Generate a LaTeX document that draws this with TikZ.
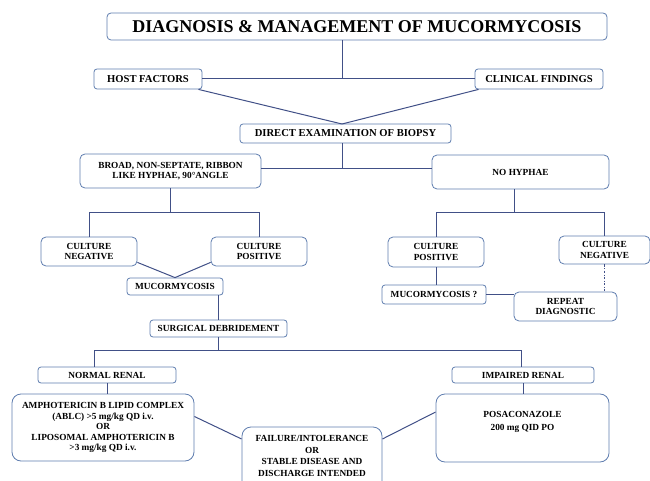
\documentclass[tikz,border=0pt]{standalone}
\usepackage{fontspec}
\setmainfont{Liberation Serif}
\definecolor{boxc}{RGB}{95,125,175}
\definecolor{linec}{RGB}{65,80,135}
\begin{document}
\begin{tikzpicture}[x=1pt,y=-1pt,
  box/.style={draw=boxc, line width=0.8pt, fill=white, rounded corners=3pt, inner sep=0pt, align=center, font=\bfseries\fontsize{9.3}{10.5}\selectfont},
  bigbox/.style={box, rounded corners=9pt},
  midbox/.style={box, rounded corners=5pt},
  hdr/.style={font=\bfseries\fontsize{10.6}{12}\selectfont},
  conn/.style={draw=linec, line width=1pt},
  dashconn/.style={draw=linec, line width=0.8pt, dash pattern=on 2.5pt off 1.5pt on 0.6pt off 1.5pt},
]
\useasboundingbox (0,0) rectangle (650,481);
\clip (0,0) rectangle (650,481);

\node[box, rounded corners=4pt, minimum width=500pt, minimum height=27pt, font=\bfseries\fontsize{18}{20}\selectfont] (title) at (357,26.5) {DIAGNOSIS \& MANAGEMENT OF MUCORMYCOSIS};
\node[box, hdr, minimum width=108pt, minimum height=20pt] (host) at (148,79) {HOST FACTORS};
\node[box, hdr, minimum width=128pt, minimum height=20pt] (clin) at (539,79) {CLINICAL FINDINGS};
\node[box, hdr, minimum width=211pt, minimum height=19pt] (dexam) at (345.5,133.5) {DIRECT EXAMINATION OF BIOPSY};
\node[midbox, minimum width=181pt, minimum height=34pt] (broad) at (170.5,171) {BROAD, NON-SEPTATE, RIBBON\\LIKE HYPHAE, 90°ANGLE};
\node[midbox, minimum width=177pt, minimum height=34pt] (nohyph) at (520.5,172) {NO HYPHAE};
\node[midbox, minimum width=96pt, minimum height=29pt] (cneg1) at (89,251.5) {CULTURE\\NEGATIVE};
\node[midbox, minimum width=96pt, minimum height=29pt] (cpos1) at (259,251.5) {CULTURE\\POSITIVE};
\node[box, minimum width=96pt, minimum height=17pt] (muc1) at (175,286.5) {MUCORMYCOSIS};
\node[box, minimum width=137pt, minimum height=17pt] (surg) at (218.5,328.5) {SURGICAL DEBRIDEMENT};
\node[midbox, minimum width=96pt, minimum height=30pt] (cpos2) at (436,252) {CULTURE\\POSITIVE};
\node[midbox, minimum width=91pt, minimum height=28pt] (cneg2) at (604.5,250) {CULTURE\\NEGATIVE};
\node[box, minimum width=104pt, minimum height=19pt] (muc2) at (434,294.5) {MUCORMYCOSIS ?};
\node[midbox, minimum width=103pt, minimum height=29pt] (repeat) at (565.5,306.5) {REPEAT\\DIAGNOSTIC};
\node[box, minimum width=138pt, minimum height=16pt] (normal) at (107,375) {NORMAL RENAL};
\node[box, minimum width=142pt, minimum height=16pt] (impaired) at (523,375) {IMPAIRED RENAL};
\node[bigbox, minimum width=182pt, minimum height=67pt] (ampho) at (103,427.5) {AMPHOTERICIN B LIPID COMPLEX\\(ABLC) >5 mg/kg QD i.v.\\OR\\LIPOSOMAL AMPHOTERICIN B\\>3 mg/kg QD i.v.};
\node[bigbox, minimum width=173pt, minimum height=68pt, font=\bfseries\fontsize{9.3}{13}\selectfont] (posa) at (522.5,428) {POSACONAZOLE\\200 mg QID PO\\[2pt]};
\node[bigbox, minimum width=140pt, minimum height=66pt, font=\bfseries\fontsize{9.3}{11.5}\selectfont] (fail) at (312,460) {FAILURE/INTOLERANCE\\OR\\STABLE DISEASE AND\\DISCHARGE INTENDED\\[-3pt]};

\coordinate (hub) at (342,79);
\draw[conn] (title.south -| hub) -- (hub);
\draw[conn] (host.east) -- (clin.west);
\coordinate (meet) at (342,124);
\draw[conn] ([xshift=-4pt]host.south east) -- (meet);
\draw[conn] ([xshift=4pt]clin.south west) -- (meet);
\coordinate (split1) at (342,169);
\draw[conn] (dexam.south -| meet) -- (split1);
\draw[conn] (broad.east |- split1) -- (nohyph.west |- split1);

\coordinate (s2) at (170.5,212);
\draw[conn] (broad.south) -- (s2);
\draw[conn] (cneg1.north) -- (cneg1.north |- s2) -- (cpos1.north |- s2) -- (cpos1.north);
\draw[conn] ([yshift=4pt]cneg1.south east) -- (muc1.north);
\draw[conn] ([yshift=4pt]cpos1.south west) -- (muc1.north);
\draw[conn] (muc1.south -| surg.north) -- (surg.north);
\coordinate (s3) at (218.5,350);
\draw[conn] (surg.south) -- (s3);
\coordinate (nL) at (94,350);
\coordinate (nR) at (521,350);
\draw[conn] (nL |- normal.north) -- (nL) -- (nR) -- (nR |- impaired.north);
\draw[conn] (normal.south) -- (normal.south |- ampho.north);
\draw[conn] (impaired.south) -- (impaired.south |- posa.north);
\draw[conn] ([yshift=11pt]ampho.east) -- ([yshift=21pt]fail.west);
\draw[conn] ([yshift=16pt]posa.west) -- ([yshift=21pt]fail.east);

\coordinate (s4) at (514,212);
\draw[conn] (nohyph.south -| s4) -- (s4);
\draw[conn] (cpos2.north) -- (cpos2.north |- s4) -- (cneg2.north |- s4) -- (cneg2.north);
\draw[conn] (cpos2.south) -- (cpos2.south |- muc2.north);
\draw[conn] (muc2.east) -- (muc2.east -| repeat.west);
\draw[dashconn] (cneg2.south) -- (cneg2.south |- repeat.north);
\end{tikzpicture}
\end{document}
